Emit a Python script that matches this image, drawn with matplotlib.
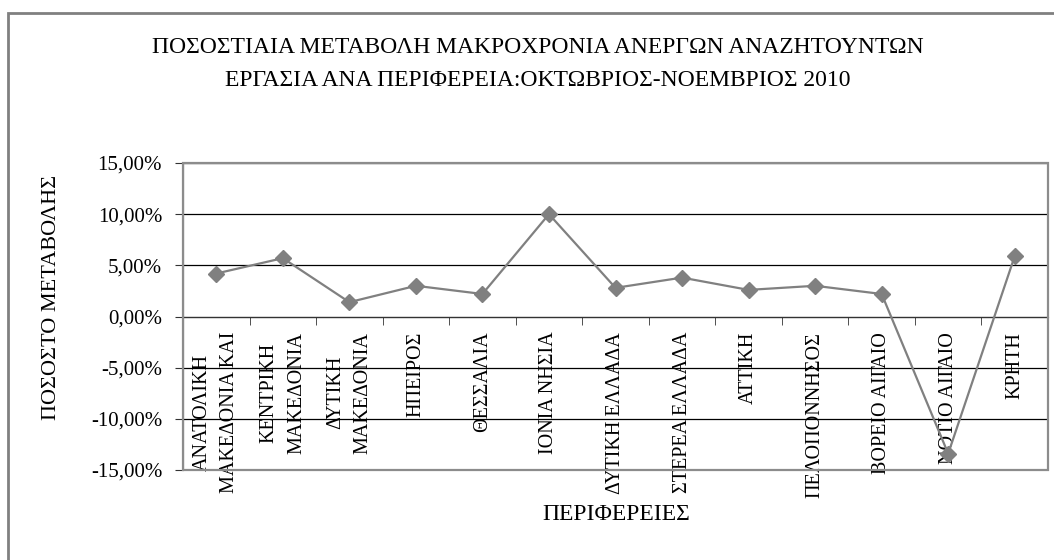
import matplotlib.pyplot as plt
from matplotlib.patches import Rectangle
from matplotlib.ticker import FuncFormatter, FixedLocator

regions = ["ΑΝΑΤΟΛΙΚΗ\nΜΑΚΕΔΟΝΙΑ ΚΑΙ", "ΚΕΝΤΡΙΚΗ\nΜΑΚΕΔΟΝΙΑ", "ΔΥΤΙΚΗ\nΜΑΚΕΔΟΝΙΑ", "ΗΠΕΙΡΟΣ",
           "ΘΕΣΣΑΛΙΑ", "ΙΟΝΙΑ ΝΗΣΙΑ", "ΔΥΤΙΚΗ ΕΛΛΑΔΑ", "ΣΤΕΡΕΑ ΕΛΛΑΔΑ", "ΑΤΤΙΚΗ",
           "ΠΕΛΟΠΟΝΝΗΣΟΣ", "ΒΟΡΕΙΟ ΑΙΓΑΙΟ", "ΝΟΤΙΟ ΑΙΓΑΙΟ", "ΚΡΗΤΗ"]
change = [0.042, 0.057, 0.014, 0.030, 0.022, 0.100, 0.028, 0.038, 0.026, 0.030, 0.022, -0.134, 0.059]
yticks = [-0.15, -0.10, -0.05, 0.0, 0.05, 0.10, 0.15]

title = "ΠΟΣΟΣΤΙΑΙΑ ΜΕΤΑΒΟΛΗ ΜΑΚΡΟΧΡΟΝΙΑ ΑΝΕΡΓΩΝ ΑΝΑΖΗΤΟΥΝΤΩΝ\nΕΡΓΑΣΙΑ ΑΝΑ ΠΕΡΙΦΕΡΕΙΑ:ΟΚΤΩΒΡΙΟΣ-ΝΟΕΜΒΡΙΟΣ 2010"

plt.rcParams['font.family'] = ['Liberation Serif', 'DejaVu Serif']

W, H = 1054, 560
fig = plt.figure(figsize=(W/100, H/100), dpi=100)
ax = fig.add_axes([183/W, 1-470/H, (1048-183)/W, (470-163)/H])

x = list(range(len(regions)))
ax.plot(x, change, color="#808080", lw=1.6, marker="D", markersize=8.5, zorder=4)

ax.set_xlim(-0.5, len(regions)-0.5)
ax.set_ylim(-0.15, 0.15)
ax.set_yticks(yticks)
ax.yaxis.set_major_formatter(FuncFormatter(lambda v, p: ("%.2f%%" % (v*100)).replace(".", ",")))
ax.yaxis.grid(True, color="black", lw=0.9)
ax.set_axisbelow(True)

ax.spines['bottom'].set_position(('data', 0))
ax.spines['bottom'].set_color("#333333")
ax.spines['left'].set_color("#333333")
ax.spines['top'].set_visible(False)
ax.spines['right'].set_visible(False)
ax.add_patch(Rectangle((0, 0), 1, 1, transform=ax.transAxes, fill=False, ec="#8c8c8c", lw=1.6, zorder=3, clip_on=False))

ax.set_xticks(x)
ax.set_xticklabels(regions, rotation=90, va="top", ha="center", multialignment="center", linespacing=1.6)
ax.xaxis.set_minor_locator(FixedLocator([i-0.5 for i in range(len(regions)+1)]))
ax.tick_params(axis="x", which="major", length=0, pad=11, labelsize=14.5)
ax.tick_params(axis="x", which="minor", length=6, direction="out", color="#333333")
ax.tick_params(axis="y", length=6, direction="out", color="#333333", pad=9, labelsize=15)

fig.text(538/W, 1-64/H, title, ha="center", va="center", fontsize=17, linespacing=1.75)
fig.text(616/W, 1-515/H, "ΠΕΡΙΦΕΡΕΙΕΣ", ha="center", va="center", fontsize=17)
fig.text(52/W, 1-297/H, "ΠΟΣΟΣΤΟ ΜΕΤΑΒΟΛΗΣ", ha="center", va="center", rotation=90, fontsize=16)

fig.add_artist(Rectangle((8/W, -0.1), 1.2, 1-13/H+0.1, transform=fig.transFigure, fill=False, ec="#808080", lw=2))

plt.savefig("out.png", dpi=100)
